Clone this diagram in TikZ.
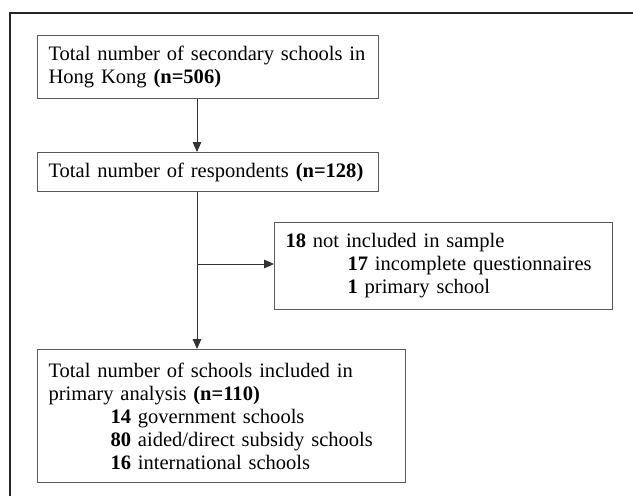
\documentclass[tikz,border=0pt]{standalone}
\usepackage{fontspec}
\setmainfont{Liberation Serif}
\usetikzlibrary{arrows.meta}
\newcommand{\myboxfont}{\fontsize{15.4pt}{17.25pt}\selectfont\spaceskip=0.23em plus 0.1em minus 0.05em\relax}
\begin{document}
\begin{tikzpicture}[x=0.75pt,y=-0.75pt,
  box/.style={draw=black!65, line width=0.85pt, anchor=north west,
    inner xsep=8.25pt, inner ysep=0pt, align=left,
    font=\myboxfont},
  arr/.style={draw=black!80, line width=0.75pt,
    -{Triangle[length=7.5pt,width=6.5pt]}},
  outerframe/.style={draw=black!85, line width=1.5pt}]
\useasboundingbox (0,0) rectangle (633,496);
\draw[outerframe] (10,496) -- (10,13) -- (633,13);

\node[box, minimum width=255.75pt, minimum height=47.25pt, text width=239.25pt] (b1) at (37,35)
  {Total number of secondary schools in\\Hong Kong \textbf{(n=506)}};
\node[box, minimum width=255.75pt, minimum height=29.25pt, text width=239.25pt] (b2) at (37,152)
  {Total number of respondents \textbf{(n=128)}};
\node[box, minimum width=253.5pt, minimum height=65.25pt, text width=237pt] (b3) at (274,222)
  {\textbf{18} not included in sample\\
   \hspace*{46.5pt}\textbf{17} incomplete questionnaires\\
   \hspace*{46.5pt}\textbf{1} primary school};
\node[box, minimum width=276pt, minimum height=99.75pt, text width=259.5pt] (b4) at (37,349)
  {Total number of schools included in\\
   primary analysis \textbf{(n=110)}\\
   \hspace*{46.5pt}\textbf{14} government schools\\
   \hspace*{46.5pt}\textbf{80} aided/direct subsidy schools\\
   \hspace*{46.5pt}\textbf{16} international schools};

\coordinate (cx) at (197,0);
\coordinate (j) at (197,264);
\draw[arr] (b1.south -| cx) -- (b2.north -| cx);
\draw[arr] (b2.south -| cx) -- (b4.north -| cx);
\draw[arr] (j) -- (j -| b3.west);
\end{tikzpicture}
\end{document}
